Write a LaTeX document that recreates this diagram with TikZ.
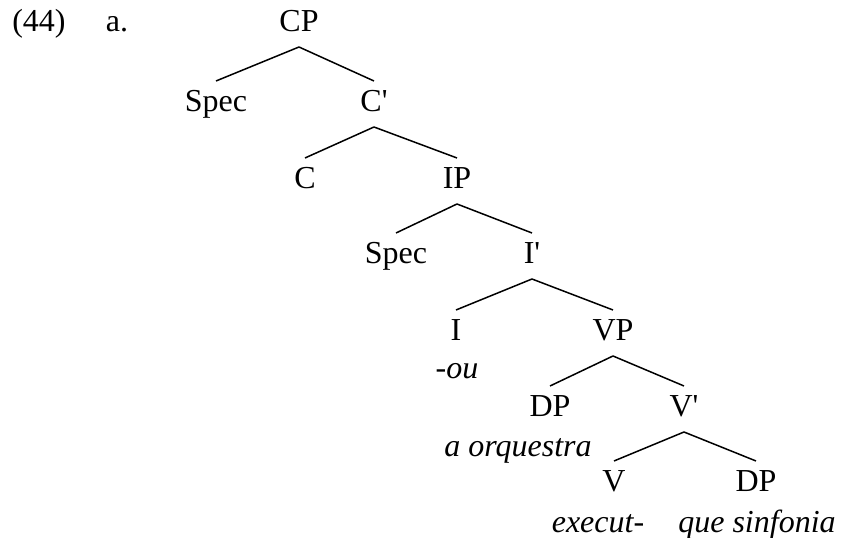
\documentclass[tikz,border=0pt]{standalone}
\usepackage{fontspec}
\setmainfont{Liberation Serif}

\begin{document}
\begin{tikzpicture}[x=0.4pt, y=-0.4pt, inner sep=0pt, outer sep=0pt,
  cat/.style={anchor=base, text height=12.4pt, text depth=6pt, font=\fontsize{12.8}{15}\selectfont},
  gloss/.style={anchor=base, font=\fontsize{12.8}{15}\selectfont\itshape},
  branch/.style={draw=black, line width=0.6pt}]
  \useasboundingbox (0,0) rectangle (843,538);
  \node[cat] (exnum) at (39,32) {(44)};
  \node[cat] (exlet) at (117,32) {a.};
  \node[cat] (cp) at (299,32) {CP};
  \node[cat] (speccp) at (216,112) {Spec};
  \node[cat] (cbar) at (374,112) {C\textquotesingle};
  \node[cat] (c) at (305,189) {C};
  \node[cat] (ip) at (457,189) {IP};
  \node[cat] (specip) at (396,264) {Spec};
  \node[cat] (ibar) at (532,264) {I\textquotesingle};
  \node[cat] (i) at (456,341) {I};
  \node[cat] (vp) at (613,341) {VP};
  \node[cat] (dpsubj) at (550,417) {DP};
  \node[cat] (vbar) at (684,417) {V\textquotesingle};
  \node[cat] (v) at (614,492) {V};
  \node[cat] (dpobj) at (756,492) {DP};
  \node[gloss] (ou) at (457,379) {-ou};
  \node[gloss] (orq) at (518,457) {a orquestra};
  \node[gloss] (exec) at (598,533) {execut-};
  \node[gloss] (sinf) at (757,533) {que sinfonia};
  \path[branch] (cp.south) -- (speccp.north);
  \path[branch] (cp.south) -- (cbar.north);
  \path[branch] (cbar.south) -- (c.north);
  \path[branch] (cbar.south) -- (ip.north);
  \path[branch] (ip.south) -- (specip.north);
  \path[branch] (ip.south) -- (ibar.north);
  \path[branch] (ibar.south) -- (i.north);
  \path[branch] (ibar.south) -- (vp.north);
  \path[branch] (vp.south) -- (dpsubj.north);
  \path[branch] (vp.south) -- (vbar.north);
  \path[branch] (vbar.south) -- (v.north);
  \path[branch] (vbar.south) -- (dpobj.north);
\end{tikzpicture}
\end{document}
